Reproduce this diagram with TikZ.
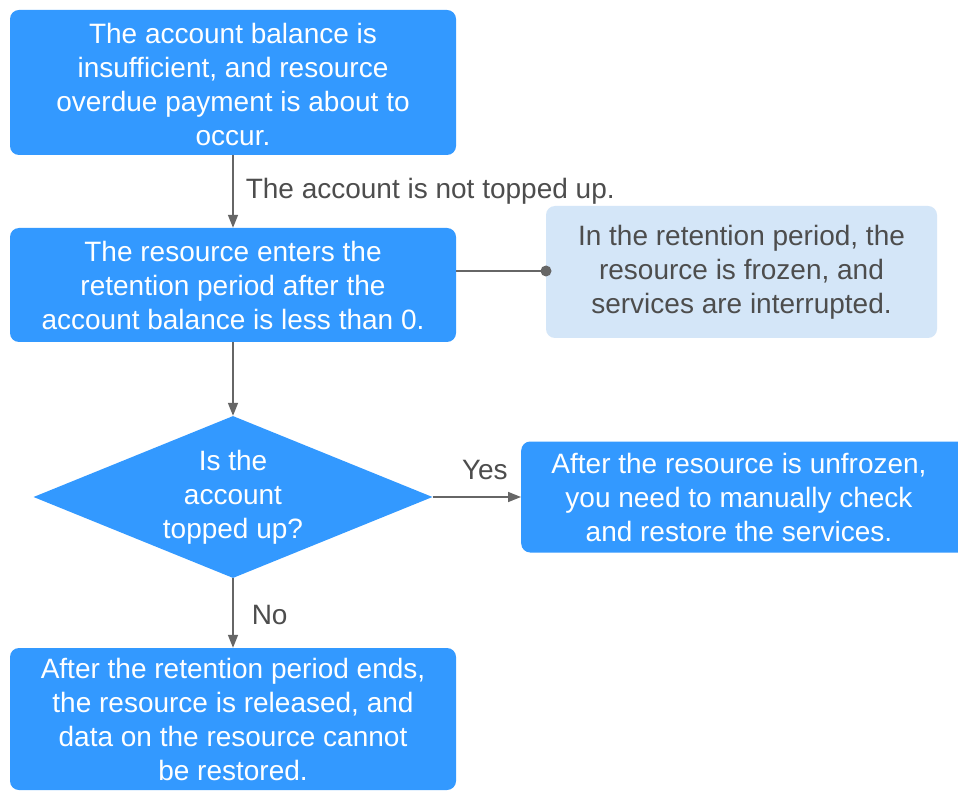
\documentclass[tikz,border=0pt]{standalone}
\usepackage{fontspec}
\setmainfont{Liberation Sans}
\usetikzlibrary{arrows.meta,shapes.geometric}
\definecolor{hblue}{RGB}{51,153,255}
\definecolor{hlight}{RGB}{212,230,248}
\definecolor{htext}{RGB}{77,77,77}
\definecolor{hline}{RGB}{102,102,102}
\tikzset{
  bluebox/.style={draw=none,fill=hblue,rounded corners=9pt,text=white,align=center,inner sep=0pt},
  lightbox/.style={draw=none,fill=hlight,rounded corners=9pt,text=htext,align=center,inner sep=0pt},
  decision/.style={diamond,draw=none,fill=hblue,text=white,align=center,inner sep=0pt},
  conn/.style={draw=hline,line width=1.5pt,-{Triangle[length=13pt,width=10pt]}},
  plainconn/.style={draw=hline,line width=1.5pt},
  lbl/.style={text=htext,inner sep=0pt},
  every node/.style={font=\fontsize{28}{34}\selectfont}
}
\begin{document}
\begin{tikzpicture}[x=1pt,y=-1pt]
\useasboundingbox (0,0) rectangle (958,791);
\clip (0,0) rectangle (958,791);
\fill[white] (0,0) rectangle (958,791);
\node[bluebox,minimum width=446pt,minimum height=145pt] (top) at (233,82.5) {};
\node[text=white,align=center,inner sep=0pt] (toptext) at (233,84.5)
  {The account balance is\\insufficient, and resource\\overdue payment is about to\\occur.};
\node[bluebox,minimum width=446pt,minimum height=114pt] (ret) at (233,285)
  {The resource enters the\\retention period after the\\account balance is less than 0.};
\node[lightbox,minimum width=391pt,minimum height=132pt] (frozen) at (741.5,272)
  {In the retention period, the\\resource is frozen, and\\services are interrupted.};
\node[decision,minimum width=399pt,minimum height=162pt] (dec) at (233,497) {};
\node[text=white,align=center,inner sep=0pt] (dectext) at (233,497.5) {Is the\\account\\topped up?};
\node[bluebox,minimum width=446pt,minimum height=111pt,anchor=west] (unf) at (521,497) {};
\node[text=white,align=center,inner sep=0pt] (unftext) at (739,497.5)
  {After the resource is unfrozen,\\you need to manually check\\and restore the services.};
\node[bluebox,minimum width=446pt,minimum height=142pt] (rel) at (233,719)
  {After the retention period ends,\\the resource is released, and\\data on the resource cannot\\be restored.};
\coordinate (dot) at (546,271);
\draw[conn] (top.south) -- (ret.north) node[lbl,midway,anchor=west,xshift=12pt,yshift=0pt] (l1) {The account is not topped up.};
\draw[plainconn] (ret.east |- dot) -- (dot);
\fill[hline] (dot) circle (5.5pt);
\draw[conn] (ret.south) -- (dec.north);
\draw[conn] (dec.east) -- (unf.west) node[lbl,midway,anchor=south,yshift=16pt,xshift=8pt] (l2) {Yes};
\draw[conn] (dec.south) -- (rel.north) node[lbl,midway,anchor=west,xshift=18pt,yshift=-2pt] (l3) {No};
\end{tikzpicture}
\end{document}
